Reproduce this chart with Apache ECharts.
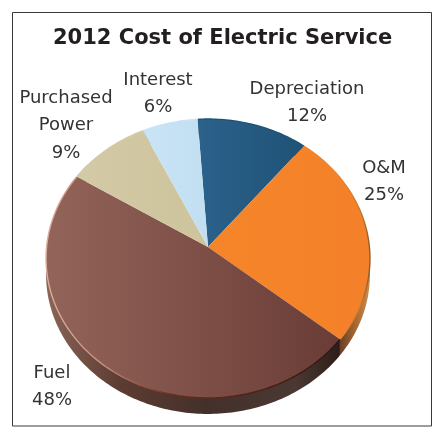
<!DOCTYPE html>
<html><head><meta charset="utf-8">
<style>html,body{margin:0;padding:0;background:#fff}#c{width:433px;height:434px}</style>
<script src="https://cdn.jsdelivr.net/npm/echarts@6/dist/echarts.min.js"></script>
</head><body><div id="c"></div>
<script>
const chartTitle = '2012 Cost of Electric Service';
const categories = ['Depreciation', 'O&M', 'Fuel', 'Purchased Power', 'Interest'];
const shares = [12, 25, 48, 9, 6];

const labelLines = [['Depreciation'], ['O&M'], ['Fuel'], ['Purchased', 'Power'], ['Interest']];
const labelAnchors = [[307, 89], [384, 168], [52, 373], [66, 98], [158, 80]];
const lineGap = 27.5;
const topColors = [['#2b618b', '#1f5276'], ['#f68529', '#f4812a'], ['#936459', '#693c36'], ['#d3caa6', '#cdc39c'], ['#c8e4f5', '#c2dff2']];
const sideStops = [
  [[0, '#16334a'], [1, '#16334a']],
  [[0, '#5e3a2a'], [0.55, '#a9682f'], [1, '#c98d55']],
  [[0, '#8a6558'], [0.25, '#5d3c31'], [0.55, '#43302a'], [0.85, '#4a3833'], [1, '#2e1c18']],
  [[0, '#8a8268'], [1, '#8a8268']],
  [[0, '#8aa0ad'], [1, '#8aa0ad']]
];
const rimStops = [
  [[0, '#1f5276'], [1, '#1f5276']],
  [[0, '#f0842c'], [0.7, '#c67c30'], [1, '#8f5a28']],
  [[0, '#dcae9f'], [0.2, '#c58c7e'], [0.42, '#6e2c1c'], [0.75, '#4d1c14'], [1, '#2a1410']],
  [[0, '#d3caa6'], [1, '#d3caa6']],
  [[0, '#c8e4f5'], [1, '#c8e4f5']]
];

const pie = { cx: 208, cy: 247, a: 161.4, b: 138.5, k: 0.0824, depth: 16, start: -4 };
const total = shares.reduce((s, v) => s + v, 0);

function project(deg, dy) {
  const t = deg * Math.PI / 180, w = 1 + pie.k * Math.cos(t);
  return [pie.cx + pie.a * Math.sin(t) / w, pie.cy - pie.b * Math.cos(t) / w + (dy || 0)];
}
function sliceRange(i) {
  let sum = 0;
  for (let j = 0; j < i; j++) sum += shares[j];
  return [pie.start + sum / total * 360, pie.start + (sum + shares[i]) / total * 360];
}
function arc(i, dy) {
  const [s, e] = sliceRange(i), pts = [];
  for (let d = s; d < e; d += 1) pts.push(project(d, dy));
  pts.push(project(e, dy));
  return pts;
}
function hGrad(x1, x2, stops) {
  return { type: 'linear', x: x1, y: 0, x2: x2, y2: 0, global: true,
    colorStops: stops.map(s => ({ offset: s[0], color: s[1] })) };
}
const minX = pie.cx - 162, maxX = pie.cx + 162;

function renderSide(params) {
  const i = params.dataIndex, top = arc(i, 0), bottom = arc(i, pie.depth).reverse();
  const fromX = i === 1 ? 338 : minX, toX = i === 1 ? maxX : 340;
  return { type: 'polygon', shape: { points: top.concat(bottom) },
    style: { fill: hGrad(fromX, toX, sideStops[i]) }, silent: true };
}
function renderTop(params) {
  const i = params.dataIndex, pts = arc(i, 0), xs = pts.map(p => p[0]).concat(pie.cx);
  const lo = Math.min(...xs), hi = Math.max(...xs);
  return { type: 'group', children: [
    { type: 'polygon', shape: { points: [[pie.cx, pie.cy]].concat(pts) },
      style: { fill: hGrad(lo, hi, topColors[i].map((c, n) => [n, c])) }, silent: true },
    { type: 'polyline', shape: { points: pts },
      style: { fill: 'none', lineWidth: 1.4, stroke: hGrad(i === 1 ? 338 : minX, i === 1 ? maxX : 340, rimStops[i]) }, silent: true }
  ] };
}
function renderLabel(params) {
  const i = params.dataIndex, lines = labelLines[i].concat(shares[i] + '%'), [x, y] = labelAnchors[i];
  return { type: 'group', children: lines.map((t, n) => ({
    type: 'text', x: x, y: y + n * lineGap, silent: true,
    style: { text: t, fill: '#333333', font: '18px "DejaVu Sans"', align: 'center', verticalAlign: 'middle' }
  })) };
}
const seriesData = categories.map((c, i) => ({ name: c, value: shares[i] }));

const chart = echarts.init(document.getElementById('c'), null, { renderer: 'canvas' });
chart.setOption({
  animation: false,
  backgroundColor: '#fff',
  title: { text: chartTitle, left: 53, top: 28, padding: 0,
    textStyle: { fontFamily: 'DejaVu Sans', fontWeight: 'bold', fontSize: 21, color: '#231f20' } },
  graphic: [{ type: 'rect', silent: true, z: -1, shape: { x: 12.5, y: 12.5, width: 419, height: 413.5 },
    style: { fill: '#fff', stroke: '#3a3a3a', lineWidth: 1 } }],
  series: [
    { type: 'custom', coordinateSystem: 'none', data: seriesData, renderItem: renderSide, z: 2 },
    { type: 'custom', coordinateSystem: 'none', data: seriesData, renderItem: renderTop, z: 3 },
    { type: 'custom', coordinateSystem: 'none', data: seriesData, renderItem: renderLabel, z: 4 }
  ]
});
</script></body></html>
